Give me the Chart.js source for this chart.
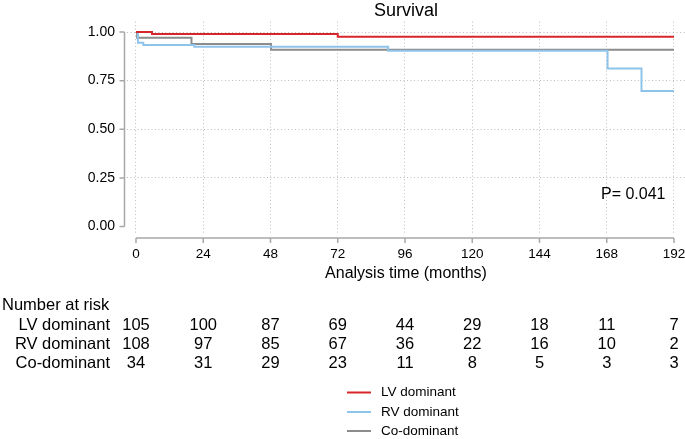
<!DOCTYPE html>
<html>
<head>
<meta charset="utf-8">
<script src="https://cdn.jsdelivr.net/npm/chart.js@4.4.1/dist/chart.umd.min.js"></script>
<style>
  html, body { margin: 0; padding: 0; background: #fff; }
  #wrap { width: 685px; height: 439px; }
</style>
</head>
<body>
<div id="wrap"><canvas id="survChart"></canvas></div>
<script>
// Kaplan-Meier steps (months, survival)
const seriesNames = ['LV dominant', 'RV dominant', 'Co-dominant'];
const lvTimes = [0, 5.7, 72, 192];
const lvSurv  = [1.0, 0.99, 0.976, 0.976];
const rvTimes = [0, 0.7, 2.6, 20.8, 90, 168.3, 180.4, 192];
const rvSurv  = [1.0, 0.945, 0.933, 0.924, 0.904, 0.813, 0.697, 0.697];
const coTimes = [0, 0.4, 19.8, 48.2, 192];
const coSurv  = [1.0, 0.971, 0.938, 0.909, 0.909];

// number at risk table
const riskTimes = [0, 24, 48, 72, 96, 120, 144, 168, 192];
const lvRisk = [105, 100, 87, 69, 44, 29, 18, 11, 7];
const rvRisk = [108, 97, 85, 67, 36, 22, 16, 10, 2];
const coRisk = [34, 31, 29, 23, 11, 8, 5, 3, 3];

const xTickValues = [0, 24, 48, 72, 96, 120, 144, 168, 192];
const yTickValues = [0, 0.25, 0.5, 0.75, 1];

const colors = ['#d7262b', '#8ec4ea', '#8c8c8c'];
const FONT = "'Liberation Sans', Arial, sans-serif";

function toPoints(times, surv) {
  return times.map((t, i) => ({ x: t, y: surv[i] }));
}

// offset axes, risk table, legend and p-value (Stata style)
const extras = {
  id: 'extras',
  afterDraw(chart) {
    const { ctx, chartArea, scales: { x, y } } = chart;
    ctx.save();

    ctx.strokeStyle = '#a8a8a8';
    ctx.lineWidth = 1.5;
    const ax = chartArea.left - 2.5;
    const ay = chartArea.bottom + 5;
    ctx.beginPath();
    ctx.moveTo(ax, y.getPixelForValue(1));
    ctx.lineTo(ax, y.getPixelForValue(0));
    yTickValues.forEach(v => {
      const py = y.getPixelForValue(v);
      ctx.moveTo(ax, py);
      ctx.lineTo(ax - 5, py);
    });
    ctx.moveTo(x.getPixelForValue(0), ay);
    ctx.lineTo(x.getPixelForValue(192), ay);
    xTickValues.forEach(v => {
      const px = x.getPixelForValue(v);
      ctx.moveTo(px, ay);
      ctx.lineTo(px, ay + 5);
    });
    ctx.stroke();

    ctx.fillStyle = '#000';
    ctx.textBaseline = 'middle';

    // p-value
    ctx.font = '16px ' + FONT;
    ctx.textAlign = 'left';
    ctx.fillText('P= 0.041', 601, 195);

    // number at risk
    ctx.font = '16.5px ' + FONT;
    ctx.fillText('Number at risk', 2, 305);
    const rows = [lvRisk, rvRisk, coRisk];
    const rowY = [325, 344, 363];
    rows.forEach((vals, r) => {
      ctx.textAlign = 'right';
      ctx.fillText(seriesNames[r], 110, rowY[r]);
      ctx.textAlign = 'center';
      vals.forEach((v, i) => {
        ctx.fillText(String(v), x.getPixelForValue(riskTimes[i]), rowY[r]);
      });
    });

    // legend
    ctx.font = '13.5px ' + FONT;
    ctx.textAlign = 'left';
    const legY = [392.5, 412, 431];
    chart.data.datasets.forEach((ds, i) => {
      ctx.strokeStyle = ds.borderColor;
      ctx.lineWidth = 2;
      ctx.beginPath();
      ctx.moveTo(347, legY[i]);
      ctx.lineTo(371, legY[i]);
      ctx.stroke();
      ctx.fillText(ds.label, 381, legY[i]);
    });

    ctx.restore();
  }
};

const chart = new Chart(document.getElementById('survChart'), {
  type: 'line',
  data: {
    datasets: [
      { label: seriesNames[0], data: toPoints(lvTimes, lvSurv), borderColor: colors[0] },
      { label: seriesNames[1], data: toPoints(rvTimes, rvSurv), borderColor: colors[1] },
      { label: seriesNames[2], data: toPoints(coTimes, coSurv), borderColor: colors[2] }
    ].map(d => Object.assign(d, {
      stepped: true,
      borderWidth: 2,
      pointRadius: 0,
      fill: false
    }))
  },
  options: {
    responsive: true,
    maintainAspectRatio: false,
    animation: false,
    layout: { padding: { left: 0, right: 0, top: 0, bottom: 156 } },
    plugins: {
      legend: { display: false },
      tooltip: { enabled: false },
      title: {
        display: true,
        text: 'Survival',
        fullSize: false,
        color: '#000',
        font: { family: FONT, size: 18, weight: 'normal' },
        padding: { top: 0, bottom: 0 }
      }
    },
    scales: {
      x: {
        type: 'linear',
        min: -3.21,
        max: 195.93,
        afterBuildTicks: s => { s.ticks = xTickValues.map(v => ({ value: v })); },
        afterFit: s => { s.height = 50; s.paddingLeft = 0; s.paddingRight = 0; },
        ticks: {
          color: '#000',
          padding: 13,
          maxRotation: 0,
          font: { family: FONT, size: 13.5 },
          callback: v => String(v)
        },
        grid: { color: '#bdbdbd', lineWidth: 1, drawTicks: false },
        border: { display: false, dash: [1, 2.5] },
        title: {
          display: true,
          text: 'Analysis time (months)',
          color: '#000',
          padding: 0,
          font: { family: FONT, size: 16 }
        }
      },
      y: {
        min: -0.0334,
        max: 1.0535,
        afterBuildTicks: s => { s.ticks = yTickValues.map(v => ({ value: v })); },
        afterFit: s => { s.width = 127; },
        ticks: {
          color: '#000',
          padding: 12,
          font: { family: FONT, size: 14 },
          callback: v => v.toFixed(2)
        },
        grid: {
          color: c => (c.tick && c.tick.value === 0) ? 'rgba(0,0,0,0)' : '#bdbdbd',
          lineWidth: 1,
          drawTicks: false
        },
        border: { display: false, dash: [1, 2.5] }
      }
    }
  },
  plugins: [extras]
});
</script>
</body>
</html>
